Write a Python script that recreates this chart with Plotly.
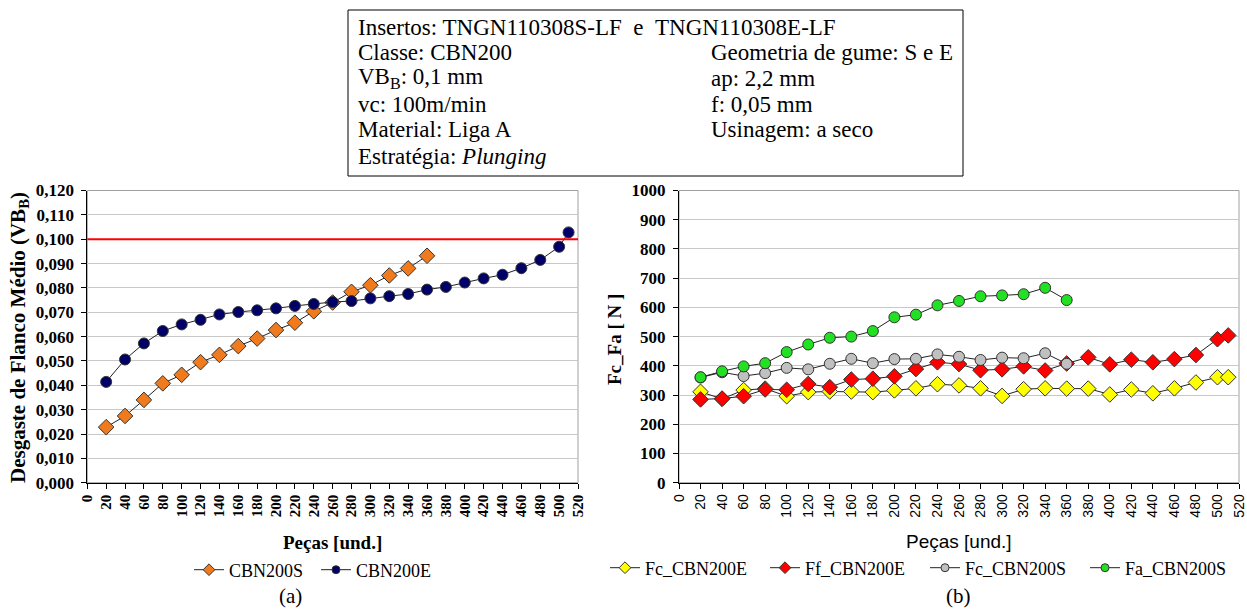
import plotly.graph_objects as go

W, H = 1247, 609

# ---------------- data ----------------
pecas_s = [20, 40, 60, 80, 100, 120, 140, 160, 180, 200, 220, 240, 260, 280, 300, 320, 340, 360]
pecas_e = [20, 40, 60, 80, 100, 120, 140, 160, 180, 200, 220, 240, 260, 280, 300, 320, 340, 360,
           380, 400, 420, 440, 460, 480, 500, 510]

vb_cbn200s = [0.0228, 0.0274, 0.0340, 0.0408, 0.0443, 0.0495, 0.0525, 0.0561, 0.0592, 0.0627,
              0.0657, 0.0704, 0.0740, 0.0784, 0.0811, 0.0851, 0.0880, 0.0932]
vb_cbn200e = [0.0414, 0.0506, 0.0572, 0.0623, 0.0650, 0.0669, 0.0691, 0.0701, 0.0708, 0.0716,
              0.0726, 0.0734, 0.0742, 0.0746, 0.0757, 0.0766, 0.0775, 0.0793, 0.0804, 0.0822,
              0.0839, 0.0854, 0.0881, 0.0915, 0.0969, 0.1028]
vb_limit = 0.100

fc_cbn200e = [311, 287, 317, 322, 296, 310, 312, 312, 310, 316, 323, 337, 333, 323, 297, 320,
              323, 322, 322, 302, 319, 306, 323, 343, 361, 361]
ff_cbn200e = [285, 288, 296, 319, 318, 338, 327, 353, 356, 364, 389, 412, 406, 385, 388, 398,
              384, 408, 429, 405, 421, 412, 423, 437, 491, 504]
fc_cbn200s = [360, 378, 365, 375, 393, 388, 407, 424, 409, 423, 424, 439, 431, 420, 428, 426,
              443, 407]
fa_cbn200s = [361, 381, 398, 409, 447, 473, 496, 500, 519, 566, 575, 607, 622, 638, 641, 645,
              667, 625]

x_ticks = list(range(0, 521, 20))
x_ticktext = [str(v) for v in x_ticks]
y1_ticks = [i / 100 for i in range(0, 13)]
y1_ticktext = ["0,000", "0,010", "0,020", "0,030", "0,040", "0,050", "0,060", "0,070",
               "0,080", "0,090", "0,100", "0,110", "0,120"]
y2_ticks = list(range(0, 1001, 100))
y2_ticktext = [str(v) for v in y2_ticks]

info_left = ["Insertos: TNGN110308S-LF&nbsp;&nbsp;e&nbsp;&nbsp;TNGN110308E-LF",
             "Classe: CBN200", "VB<sub>B</sub>: 0,1 mm", "vc: 100m/min",
             "Material: Liga A", "Estratégia: <i>Plunging</i>"]
info_right = ["", "Geometria de gume: S e E", "ap: 2,2 mm", "f: 0,05 mm",
              "Usinagem: a seco", ""]

# ---------------- layout helpers ----------------
SERIF = "Liberation Serif, Times New Roman, serif"
SANS = "Liberation Sans, Arial, sans-serif"
def px_x(p): return p / W
def px_y(p): return 1 - p / H

LINE = dict(color="#222222", width=1)
OUT = dict(color="#333333", width=1)

# (name, x, y, symbol, colour, axes, legend)
series = [
    ("CBN200S", pecas_s, vb_cbn200s, "diamond", "#F07A1E", ("x", "y"), "legend"),
    ("CBN200E", pecas_e, vb_cbn200e, "circle", "#000066", ("x", "y"), "legend"),
    ("Fc_CBN200E", pecas_e, fc_cbn200e, "diamond", "#FFFF00", ("x2", "y2"), "legend2"),
    ("Ff_CBN200E", pecas_e, ff_cbn200e, "diamond", "#FF0000", ("x2", "y2"), "legend2"),
    ("Fc_CBN200S", pecas_s, fc_cbn200s, "circle", "#C0C0C0", ("x2", "y2"), "legend2"),
    ("Fa_CBN200S", pecas_s, fa_cbn200s, "circle", "#22E022", ("x2", "y2"), "legend2"),
]

fig = go.Figure()
for name, xs, ys, sym, col, (xa, ya), leg in series:
    size = 12 if sym == "diamond" else 11
    fig.add_trace(go.Scatter(x=xs, y=ys, name=name, mode="lines+markers", line=LINE,
                             marker=dict(symbol=sym, size=size, color=col, line=OUT),
                             xaxis=xa, yaxis=ya, showlegend=False))
    # legend entry with smaller symbol (as in the reference)
    fig.add_trace(go.Scatter(x=[None], y=[None], name=name, mode="lines+markers", line=LINE,
                             marker=dict(symbol=sym, size=9 if sym == "diamond" else 8, color=col, line=OUT),
                             xaxis=xa, yaxis=ya, legend=leg, showlegend=True, hoverinfo="skip"))

# plot areas in pixels
L1, R1 = 87.3, 578
L2, R2 = 679, 1239
TOP, BOT = 190.5, 482.7

common_x = dict(range=[0, 520], tickvals=x_ticks, ticktext=x_ticktext, tickangle=-90,
                showline=True, linecolor="black", linewidth=1, ticks="outside", ticklen=5,
                tickcolor="black", showgrid=False, zeroline=False, automargin=False,
                fixedrange=True)
xa1 = dict(common_x, domain=[px_x(L1), px_x(R1)], anchor="y",
           tickfont=dict(family=SERIF, size=15, color="black", weight="bold"))
xa2 = dict(common_x, domain=[px_x(L2), px_x(R2)], anchor="y2",
           tickfont=dict(family=SANS, size=14, color="black"))

common_y = dict(showline=True, linecolor="black", linewidth=1, ticks="outside", ticklen=5,
                tickcolor="black", showgrid=True, gridcolor="#C8C8C8", gridwidth=1, zeroline=False,
                automargin=False, ticklabelstandoff=4,
                tickfont=dict(family=SERIF, size=17, color="black", weight="bold"))
ya1 = dict(common_y, range=[0, 0.12], tickvals=y1_ticks, ticktext=y1_ticktext,
           domain=[px_y(BOT), px_y(TOP)], anchor="x")
ya2 = dict(common_y, range=[0, 1000], tickvals=y2_ticks, ticktext=y2_ticktext,
           domain=[px_y(BOT), px_y(TOP)], anchor="x2")

shapes = [
    dict(type="rect", xref="x domain", yref="y domain", x0=0, x1=1, y0=0, y1=1,
         line=dict(color="#A0A0A0", width=1), layer="below"),
    dict(type="rect", xref="x2 domain", yref="y2 domain", x0=0, x1=1, y0=0, y1=1,
         line=dict(color="#A0A0A0", width=1), layer="below"),
    dict(type="line", xref="x domain", yref="y", x0=0, x1=1, y0=vb_limit, y1=vb_limit,
         line=dict(color="#FF0000", width=2)),
    dict(type="rect", xref="paper", yref="paper", x0=px_x(348), x1=px_x(963),
         y0=px_y(176), y1=px_y(10), line=dict(color="black", width=1)),
]

annotations = []
line_y = [27, 52, 78, 104, 130, 156]
for i, (tl, tr) in enumerate(zip(info_left, info_right)):
    if tl:
        annotations.append(dict(text=tl, x=px_x(356), y=px_y(line_y[i]), xref="paper", yref="paper",
                                xanchor="left", yanchor="middle", showarrow=False,
                                font=dict(family=SERIF, size=23, color="black")))
    if tr:
        annotations.append(dict(text=tr, x=px_x(709), y=px_y(line_y[i]), xref="paper", yref="paper",
                                xanchor="left", yanchor="middle", showarrow=False,
                                font=dict(family=SERIF, size=23, color="black")))

annotations += [
    dict(text="Desgaste de Flanco Médio (VB<sub>B</sub>)", x=px_x(19), y=px_y(338), xref="paper",
         yref="paper", textangle=-90, showarrow=False, xanchor="center", yanchor="middle",
         font=dict(family=SERIF, size=21, color="black", weight="bold")),
    dict(text="Fc_Fa [ N ]", x=px_x(614), y=px_y(340), xref="paper", yref="paper", textangle=-90,
         showarrow=False, xanchor="center", yanchor="middle",
         font=dict(family=SERIF, size=19, color="black", weight="bold")),
    dict(text="Peças [und.]", x=px_x(332), y=px_y(542), xref="paper", yref="paper",
         showarrow=False, xanchor="center", yanchor="middle",
         font=dict(family=SERIF, size=19, color="black", weight="bold")),
    dict(text="Peças [und.]", x=px_x(959), y=px_y(541), xref="paper", yref="paper",
         showarrow=False, xanchor="center", yanchor="middle",
         font=dict(family=SANS, size=19, color="black")),
    dict(text="(a)", x=px_x(290), y=px_y(596), xref="paper", yref="paper",
         showarrow=False, xanchor="center", yanchor="middle",
         font=dict(family=SERIF, size=21, color="black")),
    dict(text="(b)", x=px_x(958), y=px_y(596), xref="paper", yref="paper",
         showarrow=False, xanchor="center", yanchor="middle",
         font=dict(family=SERIF, size=21, color="black")),
]

fig.update_layout(
    width=W, height=H, margin=dict(l=0, r=0, t=0, b=0, autoexpand=False),
    paper_bgcolor="white", plot_bgcolor="white",
    xaxis=xa1, yaxis=ya1, xaxis2=xa2, yaxis2=ya2,
    shapes=shapes, annotations=annotations,
    legend=dict(orientation="h", x=px_x(316), y=px_y(570), xanchor="center", yanchor="middle",
                font=dict(family=SERIF, size=18, color="black"), bgcolor="rgba(0,0,0,0)",
                itemwidth=30, tracegroupgap=0, entrywidth=82, entrywidthmode="pixels",
                itemclick=False, itemdoubleclick=False),
    legend2=dict(orientation="h", x=px_x(925), y=px_y(568), xanchor="center", yanchor="middle",
                 font=dict(family=SERIF, size=18, color="black"), bgcolor="rgba(0,0,0,0)",
                 itemwidth=30, tracegroupgap=0, entrywidth=115, entrywidthmode="pixels",
                 itemclick=False, itemdoubleclick=False),
    showlegend=True,
)

fig.write_html("out.html", config=dict(displayModeBar=False),
               post_script="document.body.style.margin='0';document.body.style.overflow='hidden';")
